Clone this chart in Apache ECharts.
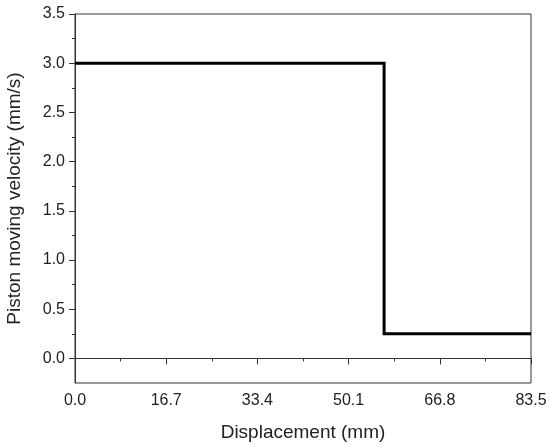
<!DOCTYPE html>
<html>
<head>
<meta charset="utf-8">
<script src="https://cdn.jsdelivr.net/npm/echarts@6/dist/echarts.min.js"></script>
<style>html,body{margin:0;padding:0;background:#fff}#c{width:550px;height:447px}</style>
</head>
<body>
<div id="c"></div>
<script>
var displacement = [0, 56.6, 56.6, 83.5];
var velocity = [3.0, 3.0, 0.25, 0.25];
var xTicks = [0, 16.7, 33.4, 50.1, 66.8, 83.5];
var yTicks = [0, 0.5, 1.0, 1.5, 2.0, 2.5, 3.0, 3.5];
var yMinorTicks = [0.25, 0.75, 1.25, 1.75, 2.25, 2.75, 3.25];
var xTitle = 'Displacement (mm)';
var yTitle = 'Piston moving velocity (mm/s)';

var chart = echarts.init(document.getElementById('c'), null, {renderer: 'canvas'});
var font = '"Liberation Sans", Arial, sans-serif';
var axisColor = '#333';
chart.setOption({
  animation: false,
  grid: {left: 75, right: 19, top: 14, bottom: 64, show: true, borderColor: axisColor, borderWidth: 1,
    containLabel: false, outerBoundsMode: 'none'},
  xAxis: {
    type: 'value', min: 0, max: 83.5, interval: 16.7,
    name: xTitle, nameLocation: 'middle', nameGap: 40,
    nameTextStyle: {fontFamily: font, fontSize: 19, color: '#222'},
    axisLine: {show: true, lineStyle: {color: axisColor, width: 1}},
    axisTick: {show: true, length: 6, inside: false, lineStyle: {color: axisColor}},
    minorTick: {show: true, splitNumber: 2, length: 3, lineStyle: {color: axisColor}},
    splitLine: {show: false},
    axisLabel: {fontFamily: font, fontSize: 16, color: '#222', margin: 10,
      formatter: function (v) { return v.toFixed(1); }, showMinLabel: true, showMaxLabel: true}
  },
  yAxis: [{
    type: 'value', min: -0.25, max: 3.5,
    name: yTitle, nameLocation: 'middle', nameGap: 51,
    nameTextStyle: {fontFamily: font, fontSize: 19, color: '#222'},
    axisLine: {show: true, lineStyle: {color: axisColor, width: 1}},
    axisTick: {show: true, length: 6, customValues: yTicks, lineStyle: {color: axisColor}},
    splitLine: {show: false},
    axisLabel: {fontFamily: font, fontSize: 16, color: '#222', margin: 10, customValues: yTicks,
      formatter: function (v) { return v.toFixed(1); }}
  }, {
    type: 'value', min: -0.25, max: 3.5, position: 'left',
    axisLine: {show: false},
    axisTick: {show: true, length: 3, customValues: yMinorTicks, lineStyle: {color: axisColor}},
    axisLabel: {show: false},
    splitLine: {show: false}
  }],
  series: [{
    type: 'line',
    data: displacement.map(function (x, i) { return [x, velocity[i]]; }),
    showSymbol: false,
    symbol: 'none',
    lineStyle: {color: '#000', width: 3, join: 'miter'},
    z: 5
  }]
});
</script>
</body>
</html>
